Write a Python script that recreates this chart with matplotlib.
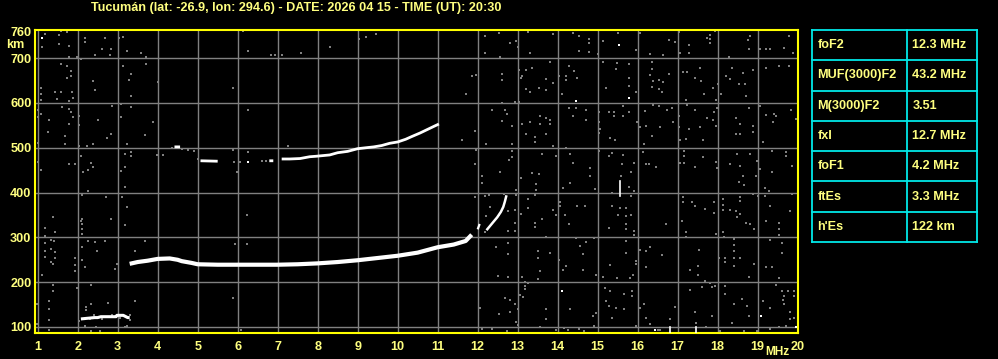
import numpy as np
import matplotlib
matplotlib.use("Agg")
import matplotlib.pyplot as plt

# Datos del ionograma (frecuencia en MHz, altura virtual en km)
title = "Tucumán (lat: -26.9, lon: 294.6) - DATE: 2026 04 15 - TIME (UT): 20:30"

# traza ordinaria F
f_trace_f = [3.3, 3.5, 3.75, 4.0, 4.3, 4.5, 4.6, 4.85, 5.0, 5.5, 6.0, 6.5, 7.0, 7.5, 8.0,
             8.5, 9.0, 9.5, 10.0, 10.5, 11.0, 11.4, 11.7, 11.85]
f_trace_km = [241, 245, 248, 252, 253, 250, 247, 243, 240, 239, 239, 239, 239, 240, 242,
              245, 249, 254, 259, 266, 278, 284, 292, 306]
# traza extraordinaria
x_trace_f = [12.22, 12.35, 12.49, 12.58, 12.64, 12.68, 12.72]
x_trace_km = [316, 330, 345, 357, 368, 380, 394]
x_piece_f = [12.0, 12.05]
x_piece_km = [318, 330]
# segundo eco (2F)
f2_trace_f = [4.42, 4.56, np.nan, 5.07, 5.5, np.nan, 6.79, 6.89, np.nan, 7.1, 7.3, 7.56, 7.8,
              7.95, 8.3, 8.5, 8.75, 9.0, 9.4, 9.6, 9.8, 10.0, 10.2, 10.35, 10.56, 10.77, 10.91, 11.03]
f2_trace_km = [502, 502, np.nan, 471, 470, np.nan, 471, 471, np.nan, 475, 475, 476, 480,
               481, 484, 489, 492, 498, 502, 505, 510, 513, 519, 525, 533, 542, 548, 553]
# capa Es
es_f = [2.08, 2.42, 2.5, 2.58, 2.79, 2.88, 2.96, 2.98, 3.14, 3.25, 3.3]
es_km = [118, 121, 121, 123, 123, 123, 123, 126, 126, 121, 121]

# ecos sueltos (blancos)
white_pts = [(1.12, 746), (15.53, 730), (14.47, 605), (15.78, 612), (14.12, 180), (19.09, 125),
             (16.43, 93), (19.96, 99), (6.26, 469)]
white_bars = [(16.82, 86, 99), (17.47, 86, 100), (15.57, 393, 426)]

# ruido (gris)
noise_pts = [
    (1.18, 754), (1.53, 752), (1.73, 759), (1.58, 761), (1.53, 732), (1.79, 728), (1.12, 726),
    (2.18, 746), (2.18, 737), (2.68, 745), (3.03, 745), (3.13, 748), (2.83, 720), (2.62, 720),
    (3.23, 715), (3.58, 711), (3.72, 702), (2.81, 707), (2.43, 708), (1.78, 702), (1.98, 702),
    (2.08, 698), (1.58, 687), (1.73, 683), (1.83, 672), (1.73, 656), (1.83, 661), (2.38, 650),
    (3.14, 683), (3.72, 687), (3.33, 665), (3.28, 651), (4.02, 647), (2.43, 629), (1.08, 633),
    (1.08, 620), (1.08, 607), (1.43, 625), (1.58, 624), (1.86, 624), (1.48, 609), (1.78, 605),
    (1.88, 610), (3.33, 616), (2.87, 594), (3.08, 598), (3.33, 592), (1.02, 584), (1.02, 568),
    (1.08, 575), (1.28, 563), (1.62, 590), (1.79, 586), (1.83, 579), (1.89, 568), (2.04, 571),
    (1.79, 553), (2.03, 551), (2.52, 562), (3.08, 568), (3.88, 558), (1.25, 536), (1.69, 527),
    (1.68, 508), (2.03, 505), (2.23, 503), (2.38, 508), (2.73, 521), (2.83, 531), (3.23, 508),
    (3.68, 528), (1.02, 510), (1.02, 469), (1.08, 450), (1.78, 464), (1.94, 464), (2.08, 482),
    (2.33, 467), (2.38, 456), (2.13, 447), (2.27, 451), (3.08, 449), (3.19, 456), (3.18, 486),
    (3.33, 490), (3.33, 481), (3.98, 484), (4.13, 484), (5.88, 633), (6.27, 717), (6.13, 761),
    (6.83, 708), (6.94, 708), (7.11, 708), (6.27, 585), (5.88, 496), (6.27, 491), (5.98, 447),
    (7.27, 503), (4.37, 499), (4.62, 497), (4.75, 494), (4.9, 492), (5.02, 474), (5.9, 469),
    (6.05, 469), (6.6, 471), (6.7, 471),
    (7.58, 711), (8.31, 726), (9.21, 748), (9.03, 743), (9.47, 754), (12.18, 749), (12.53, 756),
    (12.82, 734), (12.97, 739), (13.27, 759), (13.02, 724), (13.32, 711), (12.57, 703),
    (12.18, 711), (11.87, 661), (11.97, 663), (12.62, 665), (12.62, 652), (13.03, 674),
    (13.12, 661), (13.08, 656), (13.37, 678), (13.22, 674), (13.22, 631), (13.32, 624),
    (13.53, 633), (11.72, 620), (12.62, 600), (12.93, 603), (13.04, 603), (12.37, 585),
    (12.68, 584), (12.74, 575), (12.62, 560), (12.87, 549), (13.12, 553), (13.32, 558),
    (13.57, 553), (13.57, 570), (11.93, 538), (11.62, 518), (12.22, 508), (12.87, 508),
    (13.22, 531), (13.43, 525), (13.43, 512), (12.87, 493), (12.87, 479), (12.79, 473),
    (13.62, 486), (11.93, 464), (11.96, 496), (12.12, 438), (12.57, 447), (13.08, 432),
    (13.37, 443), (13.53, 441),
    (13.88, 754), (14.38, 756), (14.53, 749), (14.78, 743), (14.78, 734), (14.78, 714),
    (14.53, 717), (15.14, 739), (15.52, 756), (15.02, 709), (15.97, 719), (16.07, 756),
    (16.31, 709), (16.63, 708), (16.78, 741), (16.93, 737), (17.03, 758), (17.28, 729),
    (17.28, 711), (17.07, 711), (17.8, 752), (17.82, 743), (17.82, 734), (17.74, 744),
    (17.93, 761), (18.76, 741), (18.82, 749), (18.78, 720), (19.07, 720), (19.21, 720),
    (19.32, 720), (19.67, 723), (19.78, 749), (19.88, 711), (18.28, 702), (13.82, 691),
    (14.28, 683), (14.41, 672), (14.49, 655), (14.2, 661), (14.03, 661), (14.22, 652),
    (13.7, 653), (13.72, 630), (13.89, 644), (14.12, 620), (15.14, 692), (15.49, 689),
    (15.78, 687), (15.47, 676), (15.78, 655), (15.78, 639), (15.22, 633), (15.95, 625),
    (16.37, 692), (16.37, 676), (16.31, 662), (16.38, 650), (16.53, 652), (16.63, 647),
    (16.37, 635), (16.53, 631), (16.62, 625), (16.78, 665), (17.14, 670), (17.24, 670),
    (17.43, 656), (17.59, 650), (17.57, 677), (17.67, 620), (17.89, 633), (18.01, 642),
    (18.08, 620), (18.22, 661), (18.32, 653), (18.37, 677), (18.53, 642), (18.63, 668),
    (18.68, 642), (18.72, 616), (18.88, 674), (19.53, 682), (19.78, 683), (19.22, 678),
    (17.97, 607), (17.99, 589), (17.22, 607), (17.24, 595), (14.28, 589), (14.47, 589),
    (14.72, 584), (14.72, 563), (14.39, 572), (13.72, 566), (13.82, 563), (13.82, 553),
    (13.7, 531), (15.03, 579), (15.03, 557), (15.03, 534), (15.28, 579), (15.42, 579),
    (15.42, 570), (15.63, 594), (15.63, 570), (15.78, 580), (15.07, 542), (15.32, 522),
    (15.43, 518), (15.98, 557), (16.07, 546), (16.18, 583), (16.22, 549), (16.38, 595),
    (16.53, 594), (16.74, 584), (16.87, 588), (16.57, 546), (16.89, 557), (16.37, 527),
    (16.17, 508), (17.03, 572), (17.03, 546), (17.28, 542), (17.07, 518), (17.2, 519),
    (17.43, 584), (17.57, 546), (17.74, 566), (17.89, 563), (17.92, 579), (17.64, 518),
    (17.97, 548), (18.47, 566), (18.57, 553), (18.47, 531), (18.57, 531), (18.78, 589),
    (18.89, 548), (18.89, 536), (19.13, 512), (19.07, 594), (19.22, 573), (19.41, 575),
    (19.47, 570), (19.39, 557), (19.84, 584), (19.95, 564), (13.89, 505), (13.95, 482),
    (14.2, 499), (14.32, 486), (14.39, 467), (14.82, 454), (14.82, 438), (15.03, 493),
    (15.28, 482), (15.37, 488), (15.63, 484), (15.62, 464), (15.92, 467), (15.84, 445),
    (15.59, 438), (16.13, 491), (16.2, 464), (16.28, 464), (16.47, 456), (17.07, 467),
    (17.17, 467), (17.17, 482), (17.17, 493), (17.43, 456), (17.64, 479), (17.97, 469),
    (17.99, 454), (18.32, 464), (18.49, 486), (18.82, 486), (18.57, 460), (18.99, 471),
    (19.06, 452), (18.97, 438), (19.37, 493), (19.37, 447), (19.72, 490), (19.72, 482),
    (19.86, 460), (18.63, 438),
    (3.18, 413), (2.27, 404), (2.12, 395), (2.72, 391), (3.12, 391), (3.23, 368), (2.83, 342),
    (2.12, 340), (2.08, 337), (2.12, 329), (2.12, 318), (2.12, 307), (3.18, 328), (1.38, 346),
    (1.18, 320), (1.18, 303), (1.43, 311), (1.18, 288), (1.33, 294), (1.42, 292), (1.33, 273),
    (1.43, 268), (1.18, 270), (1.18, 256), (1.43, 253), (1.33, 244), (1.38, 240), (1.12, 216),
    (2.27, 292), (2.43, 290), (2.68, 292), (2.48, 270), (2.12, 279), (2.12, 250), (1.93, 253),
    (1.93, 238), (1.93, 225), (2.18, 234), (2.98, 241), (2.93, 230), (3.43, 270), (3.68, 292),
    (1.38, 194), (1.38, 180), (1.98, 186), (2.33, 194), (1.28, 157), (1.28, 140), (1.28, 116),
    (1.28, 93), (0.98, 152), (0.98, 106), (2.77, 154), (3.43, 157), (2.22, 145), (2.22, 137),
    (2.33, 152), (2.04, 113), (2.18, 102), (2.47, 101), (2.33, 91), (2.57, 90), (3.18, 101),
    (3.23, 102), (6.23, 350), (5.93, 285), (6.23, 285), (5.88, 164), (6.08, 93),
    (2.3, 118), (2.4, 126), (2.6, 117), (2.85, 127), (3.05, 119), (3.3, 126), (3.32, 116),
    (12.12, 422), (11.93, 391), (12.18, 393), (12.28, 395), (12.67, 396), (12.97, 406),
    (12.97, 395), (13.47, 419), (13.47, 405), (13.43, 395), (13.27, 385), (13.27, 366),
    (13.08, 352), (12.93, 361), (12.77, 359), (12.32, 368), (12.22, 348), (12.54, 350),
    (13.43, 331), (13.43, 324), (13.62, 342), (12.77, 314), (12.93, 314), (12.93, 333),
    (12.18, 311), (12.77, 288), (12.47, 279), (12.77, 262), (13.52, 270), (13.52, 253),
    (13.57, 225), (13.52, 208), (13.18, 200), (13.18, 192), (13.18, 184), (13.12, 212),
    (13.27, 199), (12.52, 214), (12.77, 212), (13.06, 172), (13.14, 167), (12.68, 164),
    (12.82, 160), (12.93, 152), (13.02, 140), (12.82, 134), (12.53, 130), (12.07, 143),
    (12.97, 112), (13.02, 105), (12.12, 95), (12.37, 96), (12.74, 91), (13.57, 99),
    (14.13, 410), (14.32, 422), (14.93, 407), (15.78, 413), (15.92, 404), (15.84, 393),
    (15.37, 400), (14.07, 378), (14.07, 369), (13.88, 361), (13.97, 349), (14.49, 369),
    (14.68, 370), (14.18, 350), (14.28, 329), (15.37, 369), (15.57, 365), (15.72, 365),
    (15.72, 348), (15.84, 350), (15.51, 350), (15.7, 329), (15.72, 318), (15.92, 314),
    (15.92, 305), (15.28, 320), (16.72, 329), (17.14, 391), (17.14, 378), (17.37, 378),
    (17.43, 369), (17.68, 364), (17.92, 378), (17.92, 355), (18.14, 385), (18.14, 372),
    (18.14, 361), (18.32, 361), (18.47, 358), (18.57, 390), (18.57, 381), (18.57, 352),
    (18.49, 346), (18.66, 417), (18.53, 424), (18.88, 396), (19.01, 393), (19.18, 393),
    (19.18, 410), (19.28, 404), (19.32, 369), (19.53, 331), (19.53, 318), (19.53, 305),
    (19.87, 396), (19.82, 358), (19.22, 337), (18.7, 331), (18.82, 329), (18.92, 318),
    (17.12, 337), (17.22, 311), (17.22, 301), (18.14, 313), (18.16, 301), (17.97, 308),
    (14.45, 298), (14.57, 281), (14.72, 290), (14.63, 264), (14.03, 249), (14.22, 236),
    (14.14, 227), (13.82, 266), (13.7, 301), (14.92, 298), (15.72, 291), (15.72, 266),
    (16.07, 271), (16.22, 270), (16.32, 279), (15.97, 247), (15.97, 240), (16.22, 234),
    (16.62, 261), (15.32, 238), (14.63, 227), (14.95, 216), (15.14, 212), (15.49, 209),
    (15.81, 209), (15.89, 216), (17.32, 227), (17.51, 236), (17.53, 271), (17.51, 216),
    (17.68, 203), (17.86, 189), (18.03, 253), (18.18, 255), (18.18, 244), (18.42, 296),
    (18.42, 282), (18.42, 270), (18.42, 255), (18.42, 236), (18.57, 253), (18.78, 212),
    (18.91, 240), (19.2, 234), (19.37, 233), (19.53, 210), (19.62, 266), (19.32, 294),
    (19.62, 288), (19.64, 160), (19.67, 152), (19.76, 180), (19.92, 180), (19.92, 169),
    (19.92, 121), (19.82, 117), (19.82, 134), (19.45, 194), (19.62, 180), (19.66, 169),
    (19.32, 143), (19.14, 157), (18.78, 125), (18.74, 147), (18.62, 162), (18.41, 152),
    (18.18, 173), (18.18, 192), (17.93, 192), (17.82, 199), (17.62, 189), (17.32, 182),
    (17.86, 125), (17.43, 134), (17.45, 110), (17.72, 101), (18.07, 91), (18.37, 108),
    (18.66, 91), (18.99, 91), (19.31, 95), (19.53, 99), (19.7, 102), (16.93, 145),
    (16.82, 117), (16.32, 106), (16.22, 121), (16.17, 151), (16.06, 143), (15.97, 102),
    (15.86, 169), (15.86, 180), (15.67, 174), (15.67, 140), (15.47, 143), (15.37, 121),
    (15.28, 147), (15.31, 180), (15.18, 188), (15.2, 157), (14.95, 132), (14.89, 125),
    (14.9, 102), (14.53, 95), (14.66, 91), (14.32, 140), (13.7, 140), (13.72, 117),
    (13.97, 93), (14.26, 93), (14.16, 97), (16.5, 93), (16.55, 93),
]

# tabla de parametros
param_names = ["foF2", "MUF(3000)F2", "M(3000)F2", "fxI", "foF1", "ftEs", "h'Es"]
param_values = ["12.3 MHz", "43.2 MHz", "3.51", "12.7 MHz", "4.2 MHz", "3.3 MHz", "122 km"]

freq_ticks = list(range(1, 21))
km_ticks = [100, 200, 300, 400, 500, 600, 700, 760]

YEL = "#ffff80"
AXYEL = "#ffff00"
CYAN = "#00e8e8"
GRAY = "#808080"
FONT = "Liberation Sans"
FS = 9.1

fig = plt.figure(figsize=(9.98, 3.59), dpi=100, facecolor="black")
ax = fig.add_axes([35 / 998, 1 - 333 / 359, 763 / 998, 303.5 / 359])
ax.set_facecolor("black")
ax.set_xlim(0.933, 20.008)
ax.set_ylim(86.6, 764)

for f in freq_ticks:
    ax.axvline(f, color=GRAY, lw=1.0, zorder=1)
for k in km_ticks[:-1]:
    ax.axhline(k, color=GRAY, lw=1.0, zorder=1)

nf = [p[0] for p in noise_pts]
nk = [p[1] for p in noise_pts]
ax.scatter(nf, nk, marker="s", s=4.2, color=GRAY, linewidths=0, zorder=2)

ax.plot(f_trace_f, f_trace_km, color="white", lw=3.0, solid_capstyle="butt", zorder=3)
ax.plot(x_trace_f, x_trace_km, color="white", lw=1.8, solid_capstyle="butt", zorder=3)
ax.plot(x_piece_f, x_piece_km, color="white", lw=1.6, solid_capstyle="butt", zorder=3)
ax.plot(f2_trace_f, f2_trace_km, color="white", lw=2.0, solid_capstyle="butt", zorder=3)
ax.plot(es_f, es_km, color="white", lw=2.2, solid_capstyle="butt", zorder=3)

wf = [p[0] for p in white_pts]
wk = [p[1] for p in white_pts]
ax.scatter(wf, wk, marker="s", s=4.5, color="white", linewidths=0, zorder=3)
for f, k0, k1 in white_bars:
    ax.plot([f, f], [k0, k1], color="white", lw=1.2, zorder=3)

for s in ax.spines.values():
    s.set_color(AXYEL)
    s.set_linewidth(1.5)
ax.set_xticks(freq_ticks)
ax.set_yticks(km_ticks)
ax.tick_params(length=0, colors=YEL)
ax.tick_params(axis="x", pad=5.5)
ax.tick_params(axis="y", pad=2.5)
for lab in ax.get_xticklabels() + ax.get_yticklabels():
    lab.set_fontfamily(FONT)
    lab.set_fontweight("bold")
    lab.set_fontsize(FS)
    lab.set_color(YEL)

fig.text(6 / 998, 1 - 45 / 359, "km", color=YEL, fontsize=FS, fontweight="bold",
         family=FONT, ha="left", va="center")
fig.text(789 / 998, 1 - 352 / 359, "MHz", color=YEL, fontsize=8.6, fontweight="bold",
         family=FONT, ha="right", va="center")
fig.text(91 / 998, 1 - 7.5 / 359, title, color=YEL, fontsize=FS, fontweight="bold",
         family=FONT, ha="left", va="center")

# tabla
tab = fig.add_axes([812 / 998, 1 - 242 / 359, 165 / 998, 212 / 359])
tab.set_xlim(0, 165)
tab.set_ylim(len(param_names), 0)
tab.axis("off")
n = len(param_names)
for i in range(n + 1):
    tab.plot([0, 165], [i, i], color=CYAN, lw=1.3, clip_on=False)
tab.plot([0, 0], [0, n], color=CYAN, lw=1.3, clip_on=False)
tab.plot([95, 95], [0, n], color=CYAN, lw=1.3, clip_on=False)
tab.plot([165, 165], [0, n], color=CYAN, lw=1.3, clip_on=False)
for i, (nm, val) in enumerate(zip(param_names, param_values)):
    tab.text(5.5, i + 0.5, nm, color=YEL, fontsize=FS, fontweight="bold", family=FONT,
             ha="left", va="center")
    tab.text(100.5, i + 0.5, val, color=YEL, fontsize=FS, fontweight="bold", family=FONT,
             ha="left", va="center")

fig.savefig("out.png", dpi=100, facecolor="black")
